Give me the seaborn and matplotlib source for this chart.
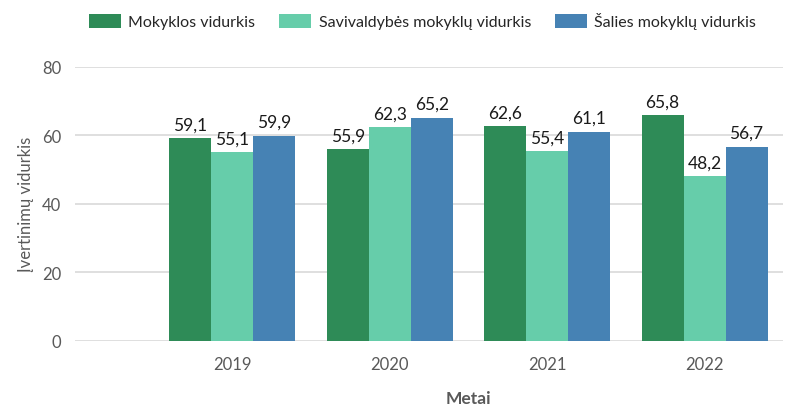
import pandas as pd
import matplotlib
matplotlib.use("Agg")
import matplotlib.pyplot as plt
import seaborn as sns

# duomenys
metai = ["2019", "2020", "2021", "2022"]
mokyklos = [59.1, 55.9, 62.6, 65.8]
savivaldybes = [55.1, 62.3, 55.4, 48.2]
salies = [59.9, 65.2, 61.1, 56.7]
serijos = ["Mokyklos vidurkis", "Savivaldybės mokyklų vidurkis", "Šalies mokyklų vidurkis"]
spalvos = ["#2E8B57", "#66CDAA", "#4682B4"]

data = pd.DataFrame({
    "Metai": metai * 3,
    "Serija": [serijos[0]] * 4 + [serijos[1]] * 4 + [serijos[2]] * 4,
    "Vertė": mokyklos + savivaldybes + salies,
})

sns.set_style("white")
plt.rcParams["font.family"] = ["Lato", "DejaVu Sans"]

fig = plt.figure(figsize=(7.87, 4.06), dpi=100)
ax = fig.add_axes([0.0953, 0.158, 0.90, 0.675])

sns.barplot(data=data, x="Metai", y="Vertė", hue="Serija", order=metai,
            hue_order=serijos, palette=spalvos, width=0.8, linewidth=0,
            saturation=1, ax=ax)

for c in ax.containers:
    ax.bar_label(c, labels=[f"{v:.1f}".replace(".", ",") for v in c.datavalues],
                 padding=4, fontsize=12.5, color="#1a1a1a")

ax.set_xlim(-1, 3.5)
ax.set_ylim(0, 80)
ax.set_yticks([0, 20, 40, 60, 80])
ax.grid(axis="y", color="#d9d9d9", linewidth=1.2)
ax.set_axisbelow(True)
sns.despine(ax=ax, left=True, bottom=True)
ax.tick_params(axis="both", length=0, labelsize=12, labelcolor="#595959")
ax.tick_params(axis="x", pad=11)
ax.tick_params(axis="y", pad=10)

ax.set_xlabel("Metai", fontsize=12.5, fontweight="bold", color="#595959")
ax.xaxis.set_label_coords(0.556, -0.18)
ax.set_ylabel("Įvertinimų vidurkis", fontsize=12, color="#595959", labelpad=6)

h, l = ax.get_legend_handles_labels()
ax.legend(h, l, ncol=3, frameon=False, loc="center", bbox_to_anchor=(0.537, 0.946),
          bbox_transform=fig.transFigure, fontsize=11.5, handlelength=2.0,
          handleheight=1.0, columnspacing=1.5, handletextpad=0.45)

fig.savefig("out.png", dpi=100)
